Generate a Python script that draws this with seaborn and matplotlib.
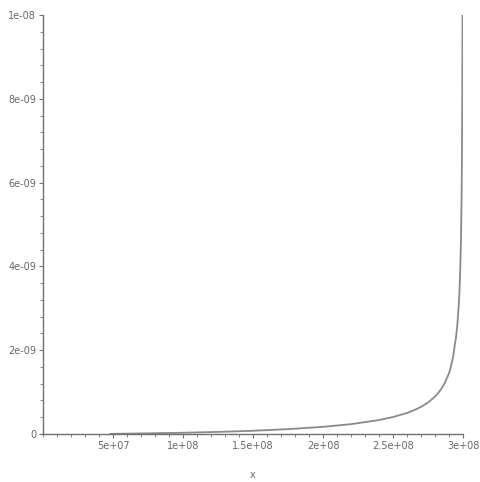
import numpy as np
import pandas as pd
import seaborn as sns
import matplotlib.pyplot as plt
from matplotlib.ticker import MultipleLocator

sns.set_theme(style="white")
plt.rcParams['font.family'] = ['DejaVu Sans']

# values
x_vals = [0.48e8, 0.75e8, 1.0e8, 1.25e8, 1.5e8, 1.75e8, 2.0e8, 2.2e8, 2.4e8,
          2.5e8, 2.6e8, 2.65e8, 2.7e8, 2.75e8, 2.8e8, 2.82e8, 2.85e8, 2.87e8,
          2.9e8, 2.91e8, 2.93e8, 2.94e8, 2.95e8, 2.96e8, 2.97e8, 2.975e8,
          2.98e8, 2.985e8, 2.99e8, 2.992e8, 2.995e8, 2.9966e8]
y_vals = [0.003e-9, 0.016e-9, 0.030e-9, 0.050e-9, 0.077e-9, 0.116e-9, 0.171e-9,
          0.235e-9, 0.333e-9, 0.405e-9, 0.502e-9, 0.567e-9, 0.647e-9, 0.751e-9,
          0.893e-9, 0.966e-9, 1.10e-9, 1.22e-9, 1.45e-9, 1.56e-9, 1.85e-9,
          2.10e-9, 2.30e-9, 2.62e-9, 3.10e-9, 3.42e-9, 3.90e-9, 4.55e-9,
          5.63e-9, 6.40e-9, 8.16e-9, 10.0e-9]

x_ticks = [5e7, 1e8, 1.5e8, 2e8, 2.5e8, 3e8]
x_labels = ["5e+07", "1e+08", "1.5e+08", "2e+08", "2.5e+08", "3e+08"]
y_ticks = [0, 2e-9, 4e-9, 6e-9, 8e-9, 1e-8]
y_labels = ["0", "2e-09", "4e-09", "6e-09", "8e-09", "1e-08"]

df = pd.DataFrame({"x": x_vals, "y": y_vals})

fig = plt.figure(figsize=(4.8, 4.82), dpi=100)
ax = fig.add_axes([43 / 480, 48 / 482, 420 / 480, 419 / 482])

sns.lineplot(data=df, x="x", y="y", sort=False, color="#8a8a8a", linewidth=1.3, ax=ax)

ax.set_xlim(0, 3e8)
ax.set_ylim(0, 1e-8)
ax.set_xticks(x_ticks)
ax.set_xticklabels(x_labels)
ax.set_yticks(y_ticks)
ax.set_yticklabels(y_labels)
ax.xaxis.set_minor_locator(MultipleLocator(1e7))
ax.yaxis.set_minor_locator(MultipleLocator(4e-10))

for side in ["top", "right"]:
    ax.spines[side].set_visible(False)
for side in ["left", "bottom"]:
    ax.spines[side].set_color("#707070")
    ax.spines[side].set_linewidth(1.0)

ax.tick_params(which="major", direction="out", length=3, width=0.8, color="#707070",
               labelsize=7, labelcolor="#666666", pad=2, bottom=True, left=True)
ax.tick_params(which="minor", direction="out", length=2, width=0.6, color="#707070",
               bottom=True, left=True)

ax.set_xlabel("x", fontsize=7, color="#666666", labelpad=14)
ax.set_ylabel("")
ax.grid(False)

plt.savefig("out.png", dpi=100)
